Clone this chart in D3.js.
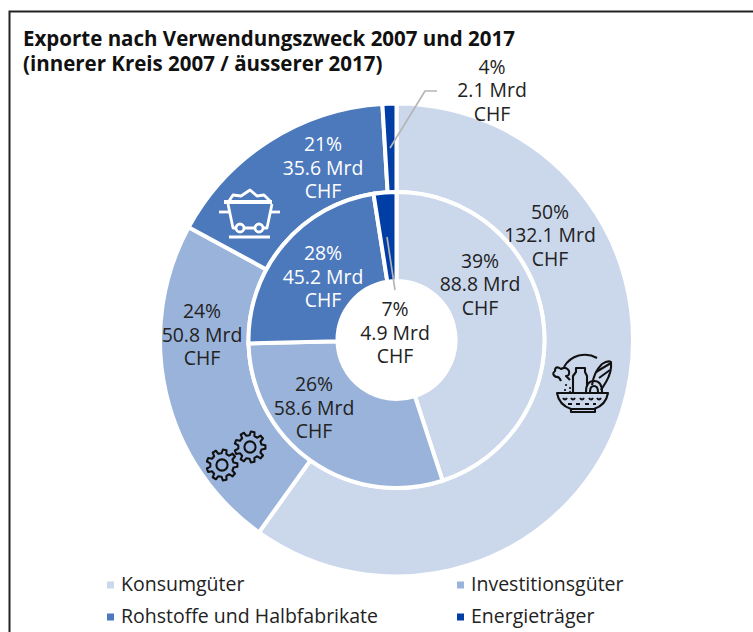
<!DOCTYPE html>
<html><head><meta charset="utf-8">
<script src="https://cdn.jsdelivr.net/npm/d3@7"></script>
<style>html,body{margin:0;background:#fff}svg{display:block}text{font-family:"Open Sans","Noto Sans",sans-serif}</style>
</head><body><div id="c"></div>
<script>
const categories=["Konsumgüter","Investitionsgüter","Rohstoffe und Halbfabrikate","Energieträger"];
const colors=["#cbd8ec","#9ab3da","#4c78bc","#003da5"];
const values2007=[88.8,58.6,45.2,4.9];
const values2017=[132.1,50.8,35.6,2.1];
const pct2007=["39%","26%","28%","7%"];
const pct2017=["50%","24%","21%","4%"];
const W=753,H=632,cx=396.5,cy=340;
const svg=d3.select("#c").append("svg").attr("width",W).attr("height",H);
svg.append("path").attr("d",d3.line()([[9.5,632],[9.5,11.5],[753,11.5]])).attr("fill","none").attr("stroke","#222").attr("stroke-width",2);
const title=svg.append("text").attr("font-weight",700).attr("font-size",20.5).attr("fill","#111");
title.append("tspan").attr("x",23).attr("y",46).text("Exporte nach Verwendungszweck 2007 und 2017");
title.append("tspan").attr("x",23).attr("y",71).text("(innerer Kreis 2007 / äusserer 2017)");
const pie=d3.pie().sort(null);
const g=svg.append("g").attr("transform",`translate(${cx},${cy})`);
function ring(vals,r0,r1){
  const a=d3.arc().innerRadius(r0).outerRadius(r1);
  g.selectAll(null).data(pie(vals)).join("path").attr("d",a).attr("fill",(d,i)=>colors[i]).attr("stroke","#fff").attr("stroke-width",4);
}
ring(values2017,148,236.5);
ring(values2007,59,148);
function label(x,y,p,v,fill){
  const t=svg.append("text").attr("text-anchor","middle").attr("font-size",19.4).attr("fill",fill);
  [p,v+" Mrd","CHF"].forEach((s,i)=>t.append("tspan").attr("x",x).attr("y",y+i*23.7).text(s));
}
const ink="#222";
const pos2017=[[550,218.5],[202,318],[323,151],[492,73.5]];
const pos2007=[[480,267.5],[314,391],[323,260],[395,316]];
const fill=[ink,ink,"#fff",ink];
values2017.forEach((v,i)=>label(pos2017[i][0],pos2017[i][1],pct2017[i],v.toFixed(1),fill[i]));
values2007.forEach((v,i)=>label(pos2007[i][0],pos2007[i][1],pct2007[i],v.toFixed(1),fill[i]));
// leader lines
const lead=d3.line();
svg.append("path").attr("d",lead([[390,148],[425,91],[437,91]])).attr("fill","none").attr("stroke","#b5b5b5").attr("stroke-width",1.7);
svg.append("path").attr("d",lead([[387,237],[395,290]])).attr("fill","none").attr("stroke","#b5b5b5").attr("stroke-width",1.7);
// legend
const lx=[106,456],ly=[584,616];
categories.forEach((c,i)=>{
  const x=lx[i%2],y=ly[i>>1];
  svg.append("rect").attr("x",x+1).attr("y",y-2.5).attr("width",7).attr("height",7).attr("fill",colors[i]);
  svg.append("text").attr("x",x+15).attr("y",y+6.5).attr("font-size",19.5).attr("fill",ink).text(c);
});
// gear icons
function gear(x,y,r){
  const n=9,pts=[];
  for(let i=0;i<n;i++){const a=i*2*Math.PI/n,s=2*Math.PI/n;
    [[-.30,r*.76],[-.17,r],[.17,r],[.30,r*.76]].forEach(([o,R])=>{const b=a+o*s;pts.push([x+R*Math.cos(b),y+R*Math.sin(b)])});}
  const gg=svg.append("g").attr("fill","none").attr("stroke","#111").attr("stroke-width",2.1);
  gg.append("path").attr("d",d3.line()(pts)+"Z").attr("stroke-linejoin","round");
  gg.append("circle").attr("cx",x).attr("cy",y).attr("r",r*.36);
}
gear(222,465,15.5);gear(250,447,15.5);
// mine cart icon
const cart=svg.append("g").attr("fill","none").attr("stroke","#fff").attr("stroke-width",2.8).attr("stroke-linejoin","round");
cart.append("path").attr("d",d3.line()([[224,202],[272,202]])).attr("stroke-width",4.2);
cart.append("path").attr("d",d3.line()([[219,212],[229,212]]));
cart.append("path").attr("d",d3.line()([[271,212],[280,212]]));
cart.append("path").attr("d",d3.line()([[228,204],[233,228],[267,228],[272,204]]));
cart.append("path").attr("d",d3.line()([[229,201],[233,195],[241,196],[250,190],[257,196],[264,195],[270,201]]));
cart.append("circle").attr("cx",240).attr("cy",228).attr("r",4).attr("fill","#4c78bc");
cart.append("circle").attr("cx",259).attr("cy",228).attr("r",4).attr("fill","#4c78bc");
cart.append("path").attr("d",d3.line()([[229,237],[270,237]]));
// food basket icon
const b=svg.append("g").attr("fill","none").attr("stroke","#111").attr("stroke-width",2.1).attr("stroke-linejoin","round");
b.append("path").attr("d","M557,393 L608,393 Q606,405 594,409 L571,409 Q559,405 557,393Z");
b.append("path").attr("d","M571,409 L571,412 L595,412 L595,409");
b.append("path").attr("d","M563,398 q2,3 4,0 M571,398 q2,3 4,0 M580,398 q2,3 4,0 M589,398 q2,3 4,0 M597,398 q2,3 4,0 M568,404 h4 M576,404 h4 M585,404 h4 M593,404 h3");
b.append("path").attr("d","M564,367 A24,24 0 0 1 597,358");
b.append("path").attr("d","M573,392 L573,376 L576,372 L576,368 L585,368 L585,372 L587,376 L587,385");
b.append("path").attr("d","M592,385 Q594,372 602,364 Q608,360 611,362 Q612,372 606,382 L601,390");
b.append("path").attr("d","M596,372 L611,363 M599,378 L610,370");
b.append("path").attr("d","M586,392 Q586,381 594,381 Q602,381 602,392");
b.append("path").attr("d","M590,392 Q590,386 594,386 Q598,386 598,392");
b.append("path").attr("d","M561,381 Q559,376 556,377 Q551,374 555,371 Q555,365 561,369 Q566,366 569,371 Q570,376 566,376 L570,380");
b.append("path").attr("d","M566,385 h.1 M570,388 h.1 M565,390 h.1 M570,392 h.1").attr("stroke-linecap","round");
</script></body></html>
